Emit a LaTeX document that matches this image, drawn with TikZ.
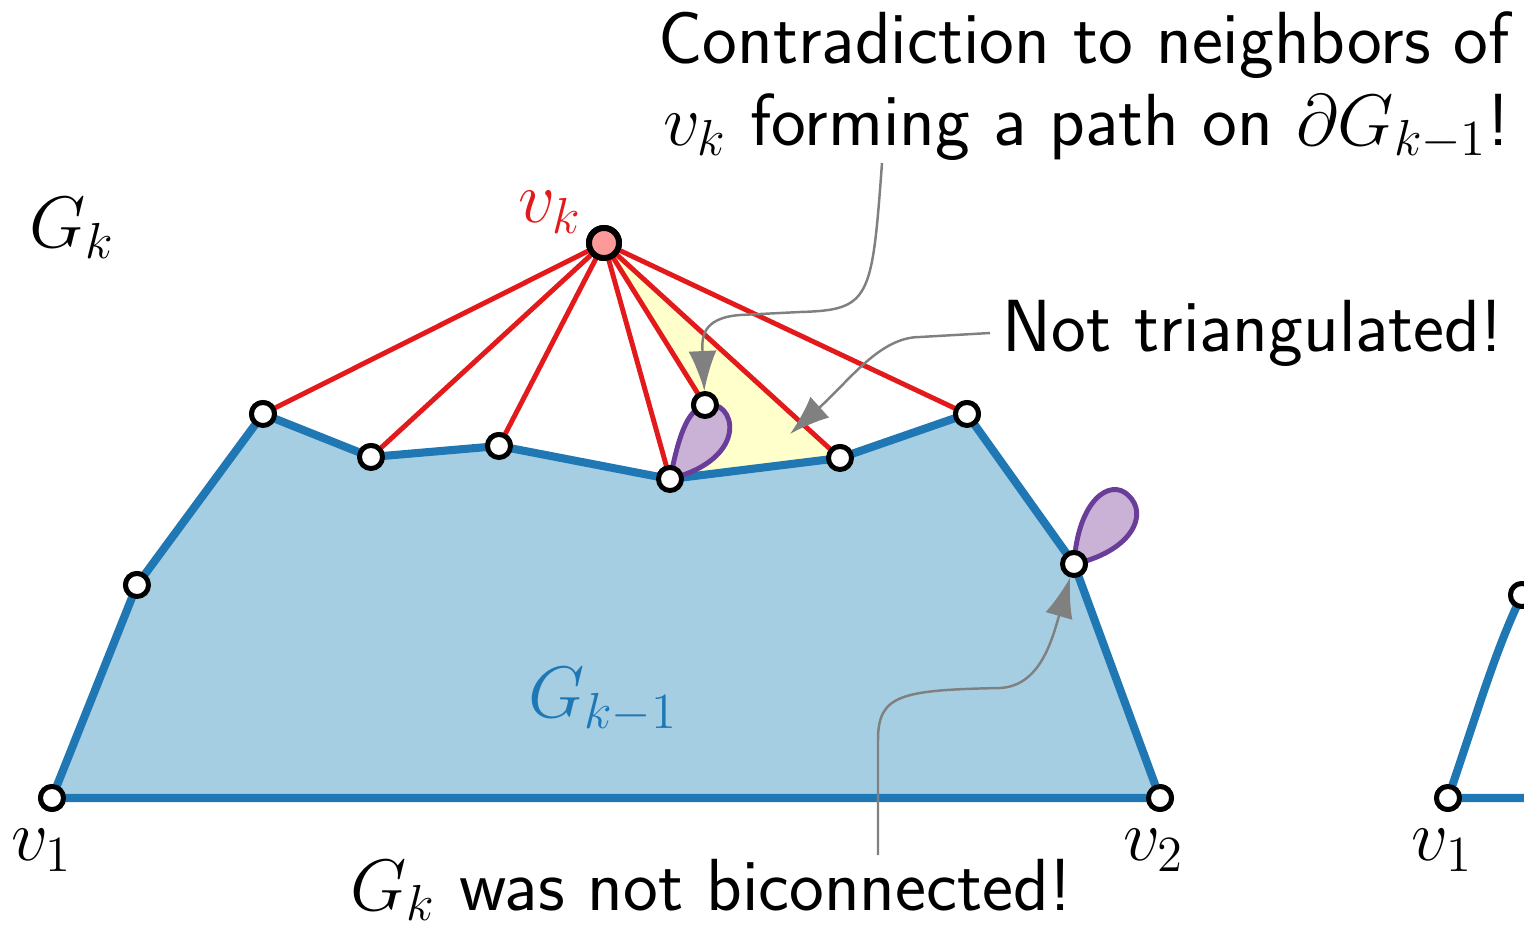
\documentclass[tikz,border=0pt]{standalone}
\usepackage{amsmath}
\usepackage{amssymb}
\usepackage{fontspec}
\usepackage{tikz}
\usetikzlibrary{arrows.meta}

\definecolor{bluefill}{HTML}{A6CEE3}
\definecolor{blueline}{HTML}{1F78B4}
\definecolor{redline}{HTML}{E31A1C}
\definecolor{pinkfill}{HTML}{FB9A99}
\definecolor{purpleline}{HTML}{6A3D9A}
\definecolor{purplefill}{HTML}{CAB2D6}
\definecolor{yellowfill}{HTML}{FFFFCC}

\tikzset{
	vtx/.style={circle, draw=black, fill=white, line width=1.4pt, inner sep=0pt, minimum size=2.3mm},
	topvtx/.style={vtx, fill=pinkfill, line width=1.7pt, minimum size=3mm},
	boundary/.style={draw=blueline, line width=2.3pt, line join=round},
	fan/.style={draw=redline, line width=1.4pt},
	lobe/.style={draw=purpleline, fill=purplefill, line width=1.4pt},
	pointer/.style={draw=gray, line width=0.7pt, -{Latex[length=4mm, width=2.8mm, fill=gray]}}
}

\begin{document}
\begin{tikzpicture}[x=0.01cm, y=-0.01cm, every node/.style={font=\sffamily\fontsize{21}{25}\selectfont}]
		\useasboundingbox (0,0) rectangle (1524,927);

		\node[vtx] (v1) at (52,798) {};
		\node[vtx] (a) at (137,585) {};
		\node[vtx] (b) at (263,414) {};
		\node[vtx] (c) at (371,457) {};
		\node[vtx] (d) at (499,446) {};
		\node[vtx] (e) at (670,479) {};
		\node[vtx] (f) at (705,405) {};
		\node[vtx] (g) at (840,458) {};
		\node[vtx] (h) at (967,414) {};
		\node[vtx] (i) at (1074,564) {};
		\node[vtx] (v2) at (1160,798) {};
		\node[topvtx] (vk) at (604,243) {};

		\node[vtx] (w1) at (1448,798) {};
		\node[vtx] (w) at (1522,595) {};
		\coordinate (wr) at (1560,798);

		\fill[bluefill] (v1.center) -- (a.center) -- (b.center) -- (c.center) -- (d.center) -- (e.center) -- (g.center) -- (h.center) -- (i.center) -- (v2.center) -- cycle;
		\fill[yellowfill] (vk.center) -- (f.center) -- (e.center) -- (g.center) -- cycle;
		\draw[boundary] (v1.center) -- (a.center) -- (b.center) -- (c.center) -- (d.center) -- (e.center) -- (g.center) -- (h.center) -- (i.center) -- (v2.center) -- cycle;
		\foreach \n in {b,c,d,e,f,g,h}
			\draw[fan] (vk.center) -- (\n.center);
		\draw[lobe] (e.center) .. controls (678,440) and (686,410) .. (f.center) .. controls (735,398) and (752,458) .. (e.center) -- cycle;
		\draw[lobe] (i.center) .. controls (1078,500) and (1110,478) .. (1128,495) .. controls (1150,515) and (1130,552) .. (i.center) -- cycle;
		\draw[boundary] (wr) -- (w1.center) .. controls (1475,720) and (1495,650) .. (w.center);

		\foreach \n in {v1,a,b,c,d,e,f,g,h,i,v2,w1,w}
			\node[vtx] at (\n) {};
		\node[topvtx] at (vk) {};

		\node (lGk) at (72,228) {$G_k$};
		\node[text=redline] (lvk) at (550,212) {$v_k$};
		\node[text=blueline] (lGk1) at (603,700) {$G_{k-1}$};
		\node (lv1) at (42,850) {$v_1$};
		\node (lv2) at (1154,850) {$v_2$};
		\node (lw1) at (1442,850) {$v_1$};

		\node[anchor=base east] (t1) at (1522,63) {Contradiction to neighbors of};
		\node[anchor=base east] (t2) at (1522,145) {$v_k$ forming a path on $\partial G_{k-1}$!};
		\node[anchor=west] (t3) at (990,333) {Not triangulated!};
		\node[anchor=base] (t4) at (711,910) {$G_k$ was not biconnected!};

		\coordinate (s1) at (882,163);
		\coordinate (tri) at (790,434);
		\coordinate (s3) at (878,855);

		\draw[pointer] (s1) .. controls (872,300) and (870,310) .. (800,312) -- (740,315) .. controls (700,318) and (702,340) .. (f);
		\draw[pointer] (t3.west) -- (920,337) .. controls (880,337) and (850,380) .. (tri);
		\draw[pointer] (s3) -- (878,740) .. controls (878,695) and (900,690) .. (1000,688) .. controls (1040,686) and (1052,640) .. (i);
	\end{tikzpicture}
\end{document}
